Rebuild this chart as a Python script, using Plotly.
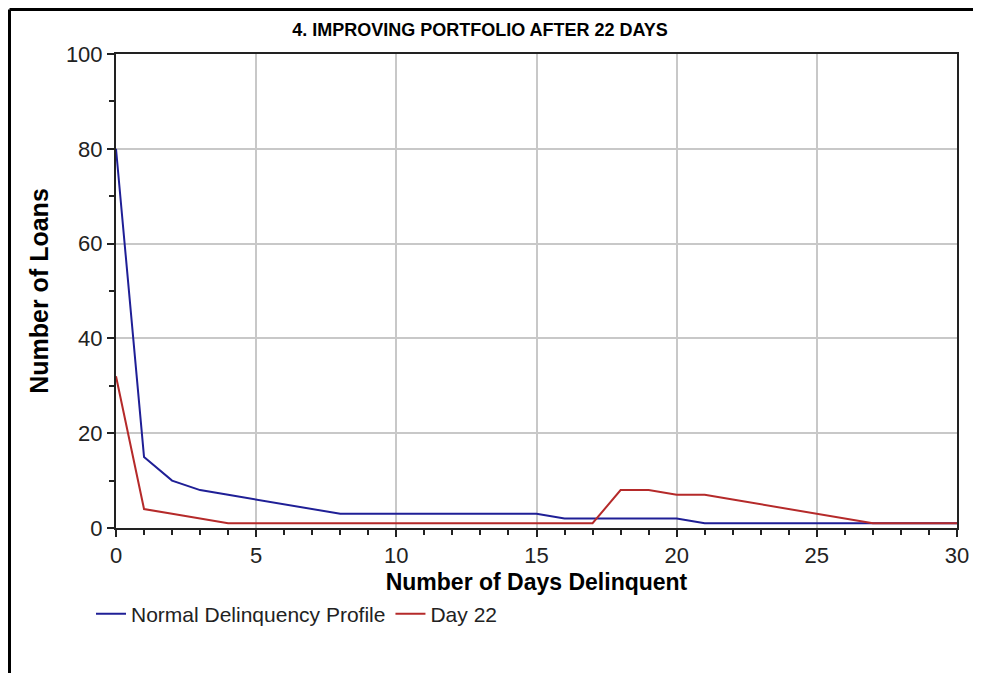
import plotly.graph_objects as go

days = list(range(31))
normal_profile = [80, 15, 10, 8, 7, 6, 5, 4, 3, 3, 3, 3, 3, 3, 3, 3,
                  2, 2, 2, 2, 2, 1, 1, 1, 1, 1, 1, 1, 1, 1, 1]
day_22 = [32, 4, 3, 2, 1, 1, 1, 1, 1, 1, 1, 1, 1, 1, 1, 1, 1, 1,
          8, 8, 7, 7, 6, 5, 4, 3, 2, 1, 1, 1, 1]

FONT = "Liberation Sans, Arial, sans-serif"

fig = go.Figure()
fig.add_trace(go.Scatter(x=days, y=normal_profile, mode="lines",
                         name="Normal Delinquency Profile",
                         line=dict(color="#1f1f96", width=2)))
fig.add_trace(go.Scatter(x=days, y=day_22, mode="lines", name="Day 22",
                         line=dict(color="#b52a2a", width=2)))

# la page ajoute 8 px de marge au body : on travaille en pixels de figure
OFF = 8
W, H = 981, 673
L, T, R, B = 116 - OFF, 54 - OFF, 957 - OFF, 528 - OFF
pw, ph = R - L, B - T
px = lambda v: (v - OFF - L) / pw
py = lambda v: (B - (v - OFF)) / ph

# cadre extérieur (haut et gauche seulement, comme sur l'original)
frame = dict(color="black", width=3)
fig.add_shape(type="line", xref="paper", yref="paper",
              x0=px(9.5), x1=px(9.5), y0=py(690), y1=py(9.5), line=frame)
fig.add_shape(type="line", xref="paper", yref="paper",
              x0=px(9.5), x1=px(995), y0=py(9.5), y1=py(9.5), line=frame)

axis_common = dict(showline=True, linecolor="#222", linewidth=2, mirror=True,
                   ticks="outside", ticklen=7, tickcolor="#222", tickwidth=2,
                   gridcolor="#c8c8c8", gridwidth=1.5, zeroline=False,
                   tickfont=dict(family=FONT, size=22, color="#222"))

fig.update_xaxes(range=[0, 30], dtick=5, tick0=0,
                 title=dict(text="<b>Number of Days Delinquent</b>", standoff=6,
                            font=dict(family=FONT, size=23, color="black")),
                 minor=dict(dtick=1, ticks="outside", ticklen=5, tickcolor="#222",
                            showgrid=False),
                 **axis_common)
fig.update_yaxes(range=[0, 100], dtick=20, tick0=0,
                 title=dict(text="<b>Number of Loans</b>", standoff=10,
                            font=dict(family=FONT, size=25, color="black")),
                 minor=dict(dtick=10, ticks="outside", ticklen=5, tickcolor="#222",
                            showgrid=False),
                 **axis_common)

fig.update_layout(
    width=W, height=H,
    margin=dict(l=L, r=W - R, t=T, b=H - B),
    paper_bgcolor="white", plot_bgcolor="white",
    title=dict(text="<b>4. IMPROVING PORTFOLIO AFTER 22 DAYS</b>",
               x=(480 - OFF) / W, xanchor="center", y=1 - (30 - OFF) / H,
               yanchor="middle",
               font=dict(family=FONT, size=18, color="black")),
    legend=dict(orientation="h", x=px(91), xanchor="left", y=py(614),
                yanchor="middle", itemwidth=30, bgcolor="rgba(0,0,0,0)",
                font=dict(family=FONT, size=21, color="#222")),
    showlegend=True,
)

fig.write_html("out.html")
